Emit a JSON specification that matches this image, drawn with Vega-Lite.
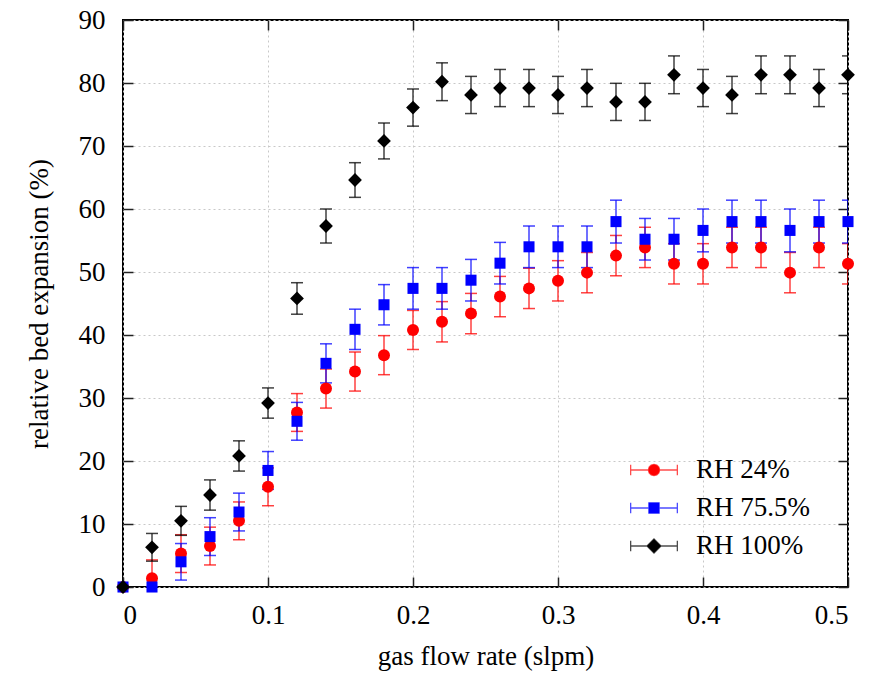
{
  "$schema": "https://vega.github.io/schema/vega-lite/v6.json",
  "width": 725,
  "height": 567,
  "autosize": {"type": "none"},
  "padding": {"left": 123, "top": 20, "right": 25, "bottom": 106},
  "background": "white",
  "config": {
    "font": "Liberation Serif",
    "view": {"stroke": "black", "strokeWidth": 2},
    "axis": {
      "labelFont": "Liberation Serif",
      "titleFont": "Liberation Serif",
      "labelColor": "black",
      "titleColor": "black",
      "titleFontWeight": "normal",
      "domain": false,
      "tickColor": "#222",
      "tickWidth": 1.5,
      "gridColor": "#c8c8c8",
      "gridDash": [2, 3],
      "gridWidth": 1
    }
  },
  "data": {
    "values": [
      {"x": 0.00, "v": 0.0, "e": 0.0, "s": "RH 24%"},
      {"x": 0.02, "v": 1.4, "e": 2.9, "s": "RH 24%"},
      {"x": 0.04, "v": 5.3, "e": 3.0, "s": "RH 24%"},
      {"x": 0.06, "v": 6.5, "e": 3.0, "s": "RH 24%"},
      {"x": 0.08, "v": 10.5, "e": 3.0, "s": "RH 24%"},
      {"x": 0.10, "v": 15.9, "e": 3.0, "s": "RH 24%"},
      {"x": 0.12, "v": 27.7, "e": 3.0, "s": "RH 24%"},
      {"x": 0.14, "v": 31.5, "e": 3.1, "s": "RH 24%"},
      {"x": 0.16, "v": 34.2, "e": 3.1, "s": "RH 24%"},
      {"x": 0.18, "v": 36.8, "e": 3.1, "s": "RH 24%"},
      {"x": 0.20, "v": 40.8, "e": 3.1, "s": "RH 24%"},
      {"x": 0.22, "v": 42.1, "e": 3.2, "s": "RH 24%"},
      {"x": 0.24, "v": 43.4, "e": 3.2, "s": "RH 24%"},
      {"x": 0.26, "v": 46.1, "e": 3.2, "s": "RH 24%"},
      {"x": 0.28, "v": 47.4, "e": 3.2, "s": "RH 24%"},
      {"x": 0.30, "v": 48.6, "e": 3.2, "s": "RH 24%"},
      {"x": 0.32, "v": 49.9, "e": 3.2, "s": "RH 24%"},
      {"x": 0.34, "v": 52.6, "e": 3.2, "s": "RH 24%"},
      {"x": 0.36, "v": 53.9, "e": 3.2, "s": "RH 24%"},
      {"x": 0.38, "v": 51.3, "e": 3.2, "s": "RH 24%"},
      {"x": 0.40, "v": 51.3, "e": 3.2, "s": "RH 24%"},
      {"x": 0.42, "v": 53.9, "e": 3.2, "s": "RH 24%"},
      {"x": 0.44, "v": 53.9, "e": 3.2, "s": "RH 24%"},
      {"x": 0.46, "v": 49.9, "e": 3.2, "s": "RH 24%"},
      {"x": 0.48, "v": 53.9, "e": 3.2, "s": "RH 24%"},
      {"x": 0.50, "v": 51.3, "e": 3.2, "s": "RH 24%"},
      {"x": 0.00, "v": 0.0, "e": 0.0, "s": "RH 75.5%"},
      {"x": 0.02, "v": 0.0, "e": 0.0, "s": "RH 75.5%"},
      {"x": 0.04, "v": 4.0, "e": 2.9, "s": "RH 75.5%"},
      {"x": 0.06, "v": 8.0, "e": 3.0, "s": "RH 75.5%"},
      {"x": 0.08, "v": 11.9, "e": 3.0, "s": "RH 75.5%"},
      {"x": 0.10, "v": 18.5, "e": 3.0, "s": "RH 75.5%"},
      {"x": 0.12, "v": 26.3, "e": 3.0, "s": "RH 75.5%"},
      {"x": 0.14, "v": 35.5, "e": 3.1, "s": "RH 75.5%"},
      {"x": 0.16, "v": 40.9, "e": 3.2, "s": "RH 75.5%"},
      {"x": 0.18, "v": 44.8, "e": 3.2, "s": "RH 75.5%"},
      {"x": 0.20, "v": 47.4, "e": 3.3, "s": "RH 75.5%"},
      {"x": 0.22, "v": 47.4, "e": 3.3, "s": "RH 75.5%"},
      {"x": 0.24, "v": 48.7, "e": 3.3, "s": "RH 75.5%"},
      {"x": 0.26, "v": 51.4, "e": 3.3, "s": "RH 75.5%"},
      {"x": 0.28, "v": 54.0, "e": 3.3, "s": "RH 75.5%"},
      {"x": 0.30, "v": 54.0, "e": 3.3, "s": "RH 75.5%"},
      {"x": 0.32, "v": 54.0, "e": 3.3, "s": "RH 75.5%"},
      {"x": 0.34, "v": 58.0, "e": 3.4, "s": "RH 75.5%"},
      {"x": 0.36, "v": 55.2, "e": 3.3, "s": "RH 75.5%"},
      {"x": 0.38, "v": 55.2, "e": 3.3, "s": "RH 75.5%"},
      {"x": 0.40, "v": 56.6, "e": 3.4, "s": "RH 75.5%"},
      {"x": 0.42, "v": 58.0, "e": 3.4, "s": "RH 75.5%"},
      {"x": 0.44, "v": 58.0, "e": 3.4, "s": "RH 75.5%"},
      {"x": 0.46, "v": 56.6, "e": 3.4, "s": "RH 75.5%"},
      {"x": 0.48, "v": 58.0, "e": 3.4, "s": "RH 75.5%"},
      {"x": 0.50, "v": 58.0, "e": 3.4, "s": "RH 75.5%"},
      {"x": 0.00, "v": 0.0, "e": 0.0, "s": "RH 100%"},
      {"x": 0.02, "v": 6.3, "e": 2.2, "s": "RH 100%"},
      {"x": 0.04, "v": 10.5, "e": 2.3, "s": "RH 100%"},
      {"x": 0.06, "v": 14.6, "e": 2.4, "s": "RH 100%"},
      {"x": 0.08, "v": 20.8, "e": 2.4, "s": "RH 100%"},
      {"x": 0.10, "v": 29.2, "e": 2.4, "s": "RH 100%"},
      {"x": 0.12, "v": 45.8, "e": 2.5, "s": "RH 100%"},
      {"x": 0.14, "v": 57.3, "e": 2.7, "s": "RH 100%"},
      {"x": 0.16, "v": 64.6, "e": 2.75, "s": "RH 100%"},
      {"x": 0.18, "v": 70.8, "e": 2.85, "s": "RH 100%"},
      {"x": 0.20, "v": 76.1, "e": 2.95, "s": "RH 100%"},
      {"x": 0.22, "v": 80.2, "e": 3.0, "s": "RH 100%"},
      {"x": 0.24, "v": 78.1, "e": 2.95, "s": "RH 100%"},
      {"x": 0.26, "v": 79.2, "e": 2.95, "s": "RH 100%"},
      {"x": 0.28, "v": 79.2, "e": 2.95, "s": "RH 100%"},
      {"x": 0.30, "v": 78.1, "e": 2.95, "s": "RH 100%"},
      {"x": 0.32, "v": 79.2, "e": 2.95, "s": "RH 100%"},
      {"x": 0.34, "v": 77.0, "e": 2.95, "s": "RH 100%"},
      {"x": 0.36, "v": 77.0, "e": 2.95, "s": "RH 100%"},
      {"x": 0.38, "v": 81.3, "e": 3.0, "s": "RH 100%"},
      {"x": 0.40, "v": 79.2, "e": 2.95, "s": "RH 100%"},
      {"x": 0.42, "v": 78.1, "e": 2.95, "s": "RH 100%"},
      {"x": 0.44, "v": 81.3, "e": 3.0, "s": "RH 100%"},
      {"x": 0.46, "v": 81.3, "e": 3.0, "s": "RH 100%"},
      {"x": 0.48, "v": 79.2, "e": 2.95, "s": "RH 100%"},
      {"x": 0.50, "v": 81.3, "e": 3.0, "s": "RH 100%"}
    ]
  },
  "resolve": {"axis": {"x": "independent", "y": "independent"}},
  "layer": [
    {
      "transform": [{"filter": "datum.s === 'RH 24%'"}],
      "mark": {"type": "errorbar", "ticks": {"size": 12}, "thickness": 1.5, "opacity": 0.75, "clip": true, "color": "#ff0000"},
      "encoding": {
        "x": {"field": "x", "type": "quantitative", "scale": {"domain": [0, 0.5], "nice": false},
          "axis": {"orient": "bottom", "values": [0, 0.1, 0.2, 0.3, 0.4, 0.5], "format": "~g", "tickSize": -10, "labelPadding": 25, "labelFontSize": 27, "title": "gas flow rate (slpm)", "titleFontSize": 27, "titlePadding": 15, "grid": true}},
        "y": {"field": "v", "type": "quantitative", "scale": {"domain": [0, 90], "nice": false},
          "axis": {"orient": "left", "values": [0, 10, 20, 30, 40, 50, 60, 70, 80, 90], "tickSize": -10, "labelPadding": 28, "labelFontSize": 27, "title": "relative bed expansion (%)", "titleFontSize": 27, "titlePadding": 25, "grid": true}},
        "yError": {"field": "e"}
      }
    },
    {
      "transform": [{"filter": "datum.s === 'RH 75.5%'"}],
      "mark": {"type": "errorbar", "ticks": {"size": 12}, "thickness": 1.5, "opacity": 0.75, "clip": true, "color": "#0000ff"},
      "encoding": {
        "x": {"field": "x", "type": "quantitative", "axis": null},
        "y": {"field": "v", "type": "quantitative", "axis": null},
        "yError": {"field": "e"}
      }
    },
    {
      "transform": [{"filter": "datum.s === 'RH 100%'"}],
      "mark": {"type": "errorbar", "ticks": {"size": 12}, "thickness": 1.5, "opacity": 0.75, "clip": true, "color": "#000000"},
      "encoding": {
        "x": {"field": "x", "type": "quantitative", "axis": null},
        "y": {"field": "v", "type": "quantitative", "axis": null},
        "yError": {"field": "e"}
      }
    },
    {
      "transform": [{"filter": "datum.s === 'RH 24%'"}],
      "mark": {"type": "point", "filled": true, "opacity": 1, "size": 144, "shape": "circle", "color": "#ff0000"},
      "encoding": {
        "x": {"field": "x", "type": "quantitative", "axis": null},
        "y": {"field": "v", "type": "quantitative", "axis": null}
      }
    },
    {
      "transform": [{"filter": "datum.s === 'RH 75.5%'"}],
      "mark": {"type": "point", "filled": true, "opacity": 1, "size": 144, "shape": "M-0.92,-0.92H0.92V0.92H-0.92Z", "color": "#0000ff"},
      "encoding": {
        "x": {"field": "x", "type": "quantitative", "axis": null},
        "y": {"field": "v", "type": "quantitative", "axis": null}
      }
    },
    {
      "transform": [{"filter": "datum.s === 'RH 100%'"}],
      "mark": {"type": "point", "filled": true, "opacity": 1, "size": 144, "shape": "M0,-1.15L1.15,0L0,1.15L-1.15,0Z", "color": "#000000"},
      "encoding": {
        "x": {"field": "x", "type": "quantitative", "axis": null},
        "y": {"field": "v", "type": "quantitative", "axis": null}
      }
    },
    {
      "mark": {"type": "point", "filled": true, "opacity": 0},
      "encoding": {
        "x": {"field": "x", "type": "quantitative", "axis": {"orient": "top", "values": [0, 0.1, 0.2, 0.3, 0.4, 0.5], "tickSize": -10, "labels": false, "title": null, "grid": false}},
        "y": {"field": "v", "type": "quantitative", "axis": {"orient": "right", "values": [0, 10, 20, 30, 40, 50, 60, 70, 80, 90], "tickSize": -10, "labels": false, "title": null, "grid": false}},
        "color": {"field": "s", "type": "nominal", "scale": {"domain": ["RH 24%", "RH 75.5%", "RH 100%"], "range": ["#ff0000", "#0000ff", "#000000"]},
          "legend": {"title": null, "orient": "none", "legendX": 507, "legendY": 426, "symbolSize": 2180, "symbolOpacity": 1, "symbolStrokeWidth": 1.3, "labelFont": "Liberation Serif", "labelFontSize": 27, "labelColor": "black", "labelOffset": 18, "rowPadding": 1, "padding": 0,
            "encode": {"symbols": {"update": {"fill": {"scale": "color", "field": "value"}, "stroke": {"scale": "color", "field": "value"}, "strokeOpacity": {"value": 0.7}, "fillOpacity": {"value": 1}, "opacity": {"value": 1}}}}}},
        "shape": {"field": "s", "type": "nominal", "scale": {"domain": ["RH 24%", "RH 75.5%", "RH 100%"], "range": [
          "M-1,0H1M-1,-0.22V0.22M1,-0.22V0.22M0.24,0L0.208,0.12L0.12,0.208L0,0.24L-0.12,0.208L-0.208,0.12L-0.24,0L-0.208,-0.12L-0.12,-0.208L0,-0.24L0.12,-0.208L0.208,-0.12Z",
          "M-1,0H1M-1,-0.22V0.22M1,-0.22V0.22M-0.22,-0.22H0.22V0.22H-0.22Z",
          "M-1,0H1M-1,-0.22V0.22M1,-0.22V0.22M0,-0.3L0.3,0L0,0.3L-0.3,0Z"
        ]},
          "legend": {"title": null, "orient": "none", "legendX": 507, "legendY": 426, "symbolSize": 2180, "symbolOpacity": 1, "symbolStrokeWidth": 1.3, "labelFont": "Liberation Serif", "labelFontSize": 27, "labelColor": "black", "labelOffset": 18, "rowPadding": 1, "padding": 0,
            "encode": {"symbols": {"update": {"fill": {"scale": "color", "field": "value"}, "stroke": {"scale": "color", "field": "value"}, "strokeOpacity": {"value": 0.7}, "fillOpacity": {"value": 1}, "opacity": {"value": 1}}}}}}
      }
    }
  ]
}
